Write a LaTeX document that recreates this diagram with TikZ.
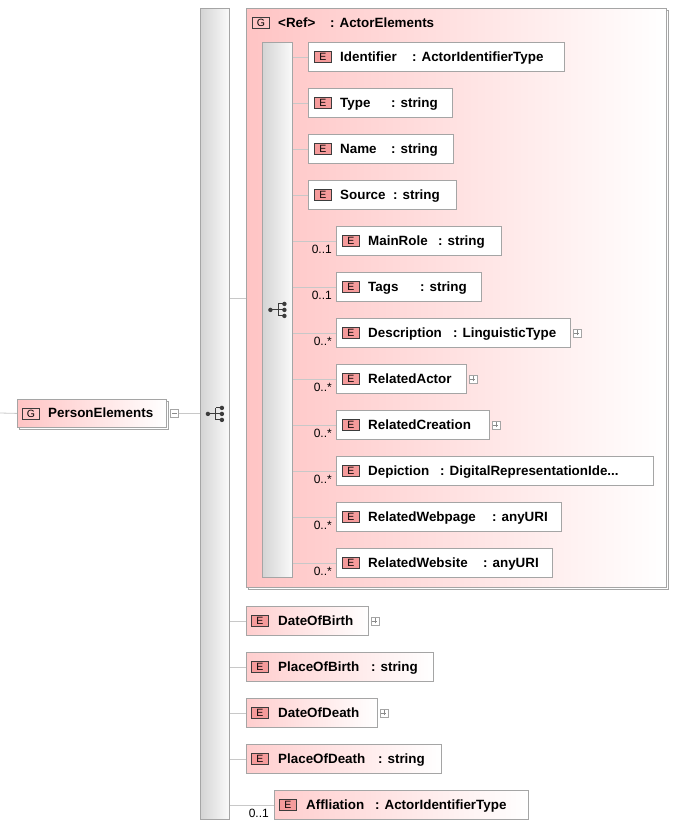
\documentclass[tikz,border=0pt]{standalone}
\usepackage{fontspec}
\setmainfont{Liberation Sans}
\usetikzlibrary{positioning}

\definecolor{linegray}{RGB}{200,200,200}
\definecolor{boxgray}{RGB}{165,165,165}
\definecolor{barleft}{RGB}{212,212,212}
\definecolor{barright}{RGB}{250,250,250}
\definecolor{grppink}{RGB}{255,196,196}
\definecolor{elempink}{RGB}{255,206,206}
\definecolor{iconred}{RGB}{245,155,155}
\definecolor{icondark}{RGB}{60,60,60}

\tikzset{
  lbl/.style={font=\fontsize{13.4}{16}\selectfont\bfseries, inner sep=0pt,
    text height=11pt, text depth=2pt, anchor=west},
  mult/.style={font=\fontsize{12}{14}\selectfont, inner sep=0pt, anchor=base east},
  elembox/.style={draw=boxgray, line width=0.8pt, fill=white, inner sep=0pt,
    minimum height=29pt, anchor=north west},
  elemshade/.style={elembox, left color=elempink, right color=white},
  eicon/.style={draw=icondark, line width=0.8pt, fill=iconred, minimum width=17pt,
    minimum height=11pt, inner sep=0pt, anchor=west, font=\fontsize{10.5}{11}\selectfont},
  gicon/.style={eicon, fill=none},
  seqbar/.style={draw=boxgray, line width=0.8pt, left color=barleft, right color=barright,
    inner sep=0pt, anchor=north west},
  conn/.style={linegray, line width=0.8pt},
  togglebox/.style={draw=boxgray, line width=0.6pt, fill=white, minimum size=8pt, inner sep=0pt},
  plusbox/.style={togglebox, path picture={
    \draw[icondark!60, line width=0.6pt]
      ([xshift=-2.5pt]path picture bounding box.center) -- ([xshift=2.5pt]path picture bounding box.center)
      ([yshift=-2.5pt]path picture bounding box.center) -- ([yshift=2.5pt]path picture bounding box.center);}},
  minusbox/.style={togglebox, path picture={
    \draw[icondark!60, line width=0.6pt]
      ([xshift=-2.5pt]path picture bounding box.center) -- ([xshift=2.5pt]path picture bounding box.center);}},
}

\begin{document}
\begin{tikzpicture}[x=1pt, y=-1pt]
    \useasboundingbox (0,0) rectangle (685,828);

    % Outer sequence bar
    \node[seqbar, minimum width=29pt, minimum height=811pt] (outseq) at (200,8) {};

    % Group <Ref> : ActorElements
    \draw[boxgray, line width=0.8pt] (248,10) rectangle (668,589);
    \node[draw=boxgray, line width=0.8pt, left color=grppink, right color=white, inner sep=0pt,
        anchor=north west, minimum width=420pt, minimum height=579pt] (grp) at (246,8) {};
    \node[gicon] (grpi) at (252,22.5) {G};
    \node[lbl] (grpn) at (278,22.5) {<Ref>};
    \node[lbl] (grpt) at (330,22.5) {: ActorElements};
    \node[seqbar, minimum width=30pt, minimum height=535pt] (inseq) at (262,42) {};

    % Root element
    \draw[boxgray, line width=0.8pt] (19,401) rectangle (168,429);
    \node[elemshade, left color=grppink, minimum width=149pt, minimum height=28pt] (root) at (17,399) {};
    \node[gicon] (rooti) at ([xshift=5pt]root.west) {G};
    \node[lbl] (rootn) at ([xshift=31pt]root.west) {PersonElements};
    \node[minusbox] (rootm) at ([xshift=7.5pt]root.east) {};
    \coordinate (lend) at (0,413);
    \draw[conn] (lend) -- (root.west);
    \draw[conn] (rootm.east) -- (outseq.west |- rootm.east);
    \draw[conn] (outseq.east |- grp.west) -- (grp.west);

    % Sequence icons
    \foreach \b in {outseq,inseq} {
        \fill[icondark] ([xshift=-7pt]\b.center) circle (2.2pt);
        \draw[icondark, line width=1pt] ([xshift=-7pt]\b.center) -- ([xshift=1pt]\b.center)
            ([xshift=1pt,yshift=6pt]\b.center) -- ([xshift=1pt,yshift=-6pt]\b.center);
        \foreach \d in {-6,0,6} {
            \draw[icondark, line width=1pt] ([xshift=1pt,yshift=\d pt]\b.center) -- ([xshift=7pt,yshift=\d pt]\b.center);
            \fill[icondark] ([xshift=7pt,yshift=\d pt]\b.center) circle (2.2pt);
        }
    }

    % Elements of the group
    \foreach \elname/\xl/\yt/\xr [count=\i] in {Identifier/308/42/564, Type/308/88/452,
        Name/308/134/453, Source/308/180/456, MainRole/336/226/501, Tags/336/272/481,
        Description/336/318/570, RelatedActor/336/364/466, RelatedCreation/336/410/489,
        Depiction/336/456/653, RelatedWebpage/336/502/561, RelatedWebsite/336/548/552} {
        \pgfmathsetmacro\w{\xr-\xl}
        \node[elembox, minimum width=\w pt] (a\i) at (\xl,\yt) {};
        \node[eicon] (ai\i) at ([xshift=6pt]a\i.west) {E};
        \node[lbl] (an\i) at ([xshift=32pt]a\i.west) {\elname};
        \draw[conn] (inseq.east |- a\i.west) -- (a\i.west);
    }
    \foreach \i/\eltype/\xc in {1/ActorIdentifierType/412, 2/string/391, 3/string/391,
        4/string/393, 5/string/438, 6/string/420, 7/LinguisticType/453,
        11/anyURI/492, 12/anyURI/483}
        \node[lbl] (at\i) at (a\i.west -| \xc,0) {: \eltype};
    \node[lbl] (at10) at (a10.west -| 440,0) {: DigitalRepresentationIde...};
    \foreach \i/\m in {5/0..1, 6/0..1, 7/0..*, 8/0..*, 9/0..*, 10/0..*, 11/0..*, 12/0..*}
        \node[mult] (am\i) at ([xshift=-4pt,yshift=2pt]a\i.south west) {\m};
    \foreach \i in {7,8,9}
        \node[plusbox] (ap\i) at ([xshift=6pt]a\i.east) {};

    % Elements after the group
    \foreach \elname/\xl/\yt/\xr [count=\i] in {DateOfBirth/246/606/368, PlaceOfBirth/246/652/433,
        DateOfDeath/246/698/377, PlaceOfDeath/246/744/441, Affliation/274/790/528} {
        \pgfmathsetmacro\w{\xr-\xl}
        \node[elemshade, minimum width=\w pt] (b\i) at (\xl,\yt) {};
        \node[eicon] (bi\i) at ([xshift=5pt]b\i.west) {E};
        \node[lbl] (bn\i) at ([xshift=32pt]b\i.west) {\elname};
        \draw[conn] (outseq.east |- b\i.west) -- (b\i.west);
    }
    \foreach \i/\eltype/\xc in {2/string/371, 4/string/378, 5/ActorIdentifierType/375}
        \node[lbl] (bt\i) at (b\i.west -| \xc,0) {: \eltype};
    \node[mult] (bm5) at ([xshift=-5pt,yshift=2pt]b5.south west) {0..1};
    \foreach \i in {1,3}
        \node[plusbox] (bp\i) at ([xshift=6pt]b\i.east) {};
\end{tikzpicture}
\end{document}
